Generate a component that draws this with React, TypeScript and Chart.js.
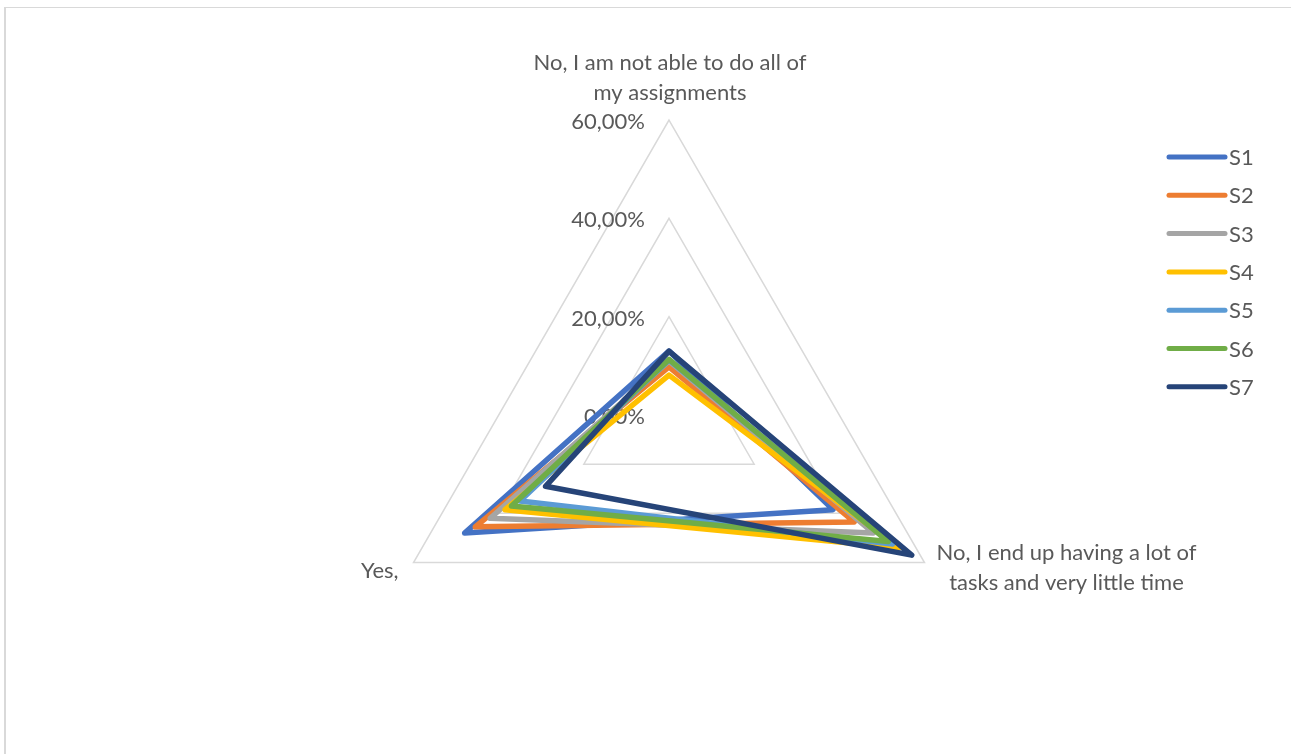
import React, { useEffect, useRef } from "react";
import { Chart, registerables } from "chart.js";

Chart.register(...registerables);

// Axis categories (clockwise from the top) and their wrapped display lines
const categories = [
  "No, I am not able to do all of my assignments",
  "No, I end up having a lot of tasks and very little time",
  "Yes,",
];
const categoryLines = [
  ["No, I am not able to do all of", "my assignments"],
  ["No, I end up having a lot of", "tasks and very little time"],
  ["Yes,"],
];

// Series values in percent, one per category
const seriesNames = ["S1", "S2", "S3", "S4", "S5", "S6", "S7"];
const s1 = [13, 38.5, 48];
const s2 = [9.8, 43.5, 45.5];
const s3 = [11, 48, 42];
const s4 = [8.1, 54, 38.5];
const s5 = [11.2, 52.5, 35];
const s6 = [11.3, 51.5, 37];
const s7 = [13, 57, 29];
const seriesValues = [s1, s2, s3, s4, s5, s6, s7];
const seriesColors = ["#4472C4", "#ED7D31", "#A5A5A5", "#FFC000", "#5B9BD5", "#70AD47", "#264478"];

// Radial axis ticks
const tickValues = [0, 20, 40, 60];

const FONT = "Lato, 'Liberation Sans', sans-serif";
const FONT_SIZE = 22;
const TEXT_COLOR = "#595959";

const fmtPct = (v: number) => v.toFixed(2).replace(".", ",") + "%";

const overlayPlugin = {
  id: "radarOverlay",
  beforeDatasetsDraw(chart: any) {
    const scale = chart.scales.r;
    const ctx = chart.ctx as CanvasRenderingContext2D;
    ctx.save();
    ctx.font = `${FONT_SIZE}px ${FONT}`;
    ctx.fillStyle = TEXT_COLOR;
    ctx.textAlign = "right";
    ctx.textBaseline = "middle";
    tickValues.forEach((v) => {
      const d = scale.getDistanceFromCenterForValue(v);
      ctx.fillText(fmtPct(v), scale.xCenter - 24, scale.yCenter - d + 2);
    });
    ctx.restore();
  },
  afterDraw(chart: any) {
    const scale = chart.scales.r;
    const ctx = chart.ctx as CanvasRenderingContext2D;
    ctx.save();
    ctx.font = `${FONT_SIZE}px ${FONT}`;
    ctx.fillStyle = TEXT_COLOR;
    ctx.textBaseline = "middle";

    // Category labels around the outer polygon
    const lineH = 30;
    const top = scale.getPointPosition(0, scale.drawingArea);
    ctx.textAlign = "center";
    categoryLines[0].forEach((t, k) => {
      ctx.fillText(t, top.x + 1, top.y - 57 + k * lineH);
    });
    const right = scale.getPointPosition(1, scale.drawingArea);
    categoryLines[1].forEach((t, k) => {
      ctx.fillText(t, right.x + 142, right.y - 10 + k * lineH);
    });
    const left = scale.getPointPosition(2, scale.drawingArea);
    ctx.textAlign = "right";
    categoryLines[2].forEach((t, k) => {
      ctx.fillText(t, left.x - 15, left.y + 8 + k * lineH);
    });

    // Legend on the right
    const lx = 1169;
    const ly = 157;
    const step = 38.3;
    chart.data.datasets.forEach((ds: any, i: number) => {
      const y = ly + i * step;
      ctx.strokeStyle = ds.borderColor;
      ctx.lineWidth = 5;
      ctx.lineCap = "round";
      ctx.beginPath();
      ctx.moveTo(lx, y);
      ctx.lineTo(lx + 56, y);
      ctx.stroke();
      ctx.fillStyle = TEXT_COLOR;
      ctx.textAlign = "left";
      ctx.fillText(ds.label, lx + 60, y + 1);
    });
    ctx.restore();
  },
};

function RadarChart() {
  const canvasRef = useRef<HTMLCanvasElement | null>(null);

  useEffect(() => {
    if (!canvasRef.current) return;
    const chart = new Chart(canvasRef.current, {
      type: "radar",
      data: {
        labels: categories,
        datasets: seriesNames.map((name, i) => ({
          label: name,
          data: seriesValues[i],
          borderColor: seriesColors[i],
          backgroundColor: "transparent",
          borderWidth: 5.5,
          borderJoinStyle: "round" as const,
          fill: false,
          pointRadius: 0,
          pointHoverRadius: 0,
          order: seriesNames.length - 1 - i,
        })),
      },
      options: {
        responsive: false,
        animation: false,
        layout: { padding: { left: 374, right: 327, top: 120, bottom: 44 } },
        elements: { line: { tension: 0 } },
        plugins: {
          legend: { display: false },
          tooltip: { enabled: false },
        },
        scales: {
          r: {
            min: 0,
            max: 60,
            beginAtZero: true,
            angleLines: { display: false },
            grid: { color: "#D9D9D9", lineWidth: 1.5 },
            pointLabels: { display: false },
            ticks: { display: false, stepSize: 20 },
          },
        },
      },
      plugins: [overlayPlugin],
    });
    return () => chart.destroy();
  }, []);

  return (
    <div
      style={{
        position: "fixed",
        left: 0,
        top: 0,
        width: 1291,
        height: 754,
        background: "#ffffff",
        overflow: "hidden",
      }}
    >
      <div
        style={{
          position: "absolute",
          left: 4,
          top: 7,
          right: -10,
          bottom: -10,
          borderTop: "1px solid #D9D9D9",
          borderLeft: "2px solid #D9D9D9",
        }}
      />
      <canvas
        ref={canvasRef}
        width={1291}
        height={754}
        style={{ position: "absolute", left: 0, top: 0 }}
      />
    </div>
  );
}

export default function App() {
  return <RadarChart />;
}
